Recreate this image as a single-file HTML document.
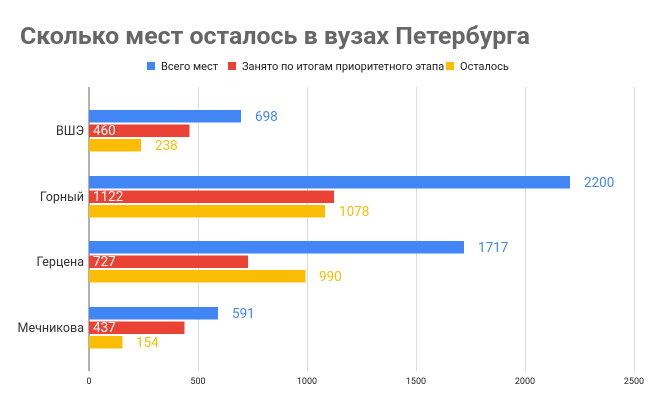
<html><head><style>body{margin:0;background:#fff}</style></head><body>
<svg width="656" height="406" xmlns="http://www.w3.org/2000/svg" font-family="Roboto, 'Liberation Sans', sans-serif">
<text x="20" y="44" font-size="24.5" font-weight="bold" fill="#666" textLength="510" lengthAdjust="spacingAndGlyphs">Сколько мест осталось в вузах Петербурга</text>
<g font-size="11" fill="#222">
<rect x="147" y="62" width="8" height="8" fill="#4285f4"/><text x="161" y="70">Всего мест</text>
<rect x="228" y="62" width="8" height="8" fill="#ea4335"/><text x="242" y="70">Занято по итогам приоритетного этапа</text>
<rect x="446" y="62" width="8" height="8" fill="#fbbc04"/><text x="460" y="70">Осталось</text>
</g>
<g stroke="#ddd" stroke-width="1">
<line x1="198.5" y1="87" x2="198.5" y2="371"/><line x1="307.5" y1="87" x2="307.5" y2="371"/><line x1="416.5" y1="87" x2="416.5" y2="371"/><line x1="525.5" y1="87" x2="525.5" y2="371"/><line x1="634.5" y1="87" x2="634.5" y2="371"/>
</g>
<line x1="89" y1="87" x2="89" y2="371" stroke="#666" stroke-width="1"/>
<g font-size="9" fill="#222" text-anchor="middle">
<text x="89" y="384">0</text><text x="198" y="384">500</text><text x="307" y="384">1000</text><text x="416" y="384">1500</text><text x="525" y="384">2000</text><text x="634" y="384">2500</text>
</g>
<g font-size="12.5" fill="#333" text-anchor="end">
<text x="84" y="135">ВШЭ</text><text x="84" y="201">Горный</text><text x="84" y="266">Герцена</text><text x="84" y="332">Мечникова</text>
</g>
<g font-size="13.5">
<rect x="89" y="110" width="152" height="12.5" fill="#4285f4"/><text x="255" y="121" fill="#4285f4">698</text>
<rect x="89" y="124.5" width="100.5" height="12.5" fill="#ea4335"/><text x="93" y="135" fill="#fff">460</text>
<rect x="89" y="139" width="52" height="12.5" fill="#fbbc04"/><text x="155" y="150" fill="#fbbc04">238</text>

<rect x="89" y="176" width="481" height="12.5" fill="#4285f4"/><text x="584" y="187" fill="#4285f4">2200</text>
<rect x="89" y="190.5" width="245" height="12.5" fill="#ea4335"/><text x="93" y="201" fill="#fff">1122</text>
<rect x="89" y="205" width="236" height="12.5" fill="#fbbc04"/><text x="339" y="216" fill="#fbbc04">1078</text>

<rect x="89" y="241" width="375" height="12.5" fill="#4285f4"/><text x="478" y="252" fill="#4285f4">1717</text>
<rect x="89" y="255.5" width="159" height="12.5" fill="#ea4335"/><text x="93" y="266" fill="#fff">727</text>
<rect x="89" y="270" width="216.5" height="12.5" fill="#fbbc04"/><text x="319" y="281" fill="#fbbc04">990</text>

<rect x="89" y="307" width="129" height="12.5" fill="#4285f4"/><text x="232" y="318" fill="#4285f4">591</text>
<rect x="89" y="321.5" width="95.5" height="12.5" fill="#ea4335"/><text x="93" y="332" fill="#fff">437</text>
<rect x="89" y="336" width="33.5" height="12.5" fill="#fbbc04"/><text x="136" y="347" fill="#fbbc04">154</text>
</g>
</svg>
</body></html>
